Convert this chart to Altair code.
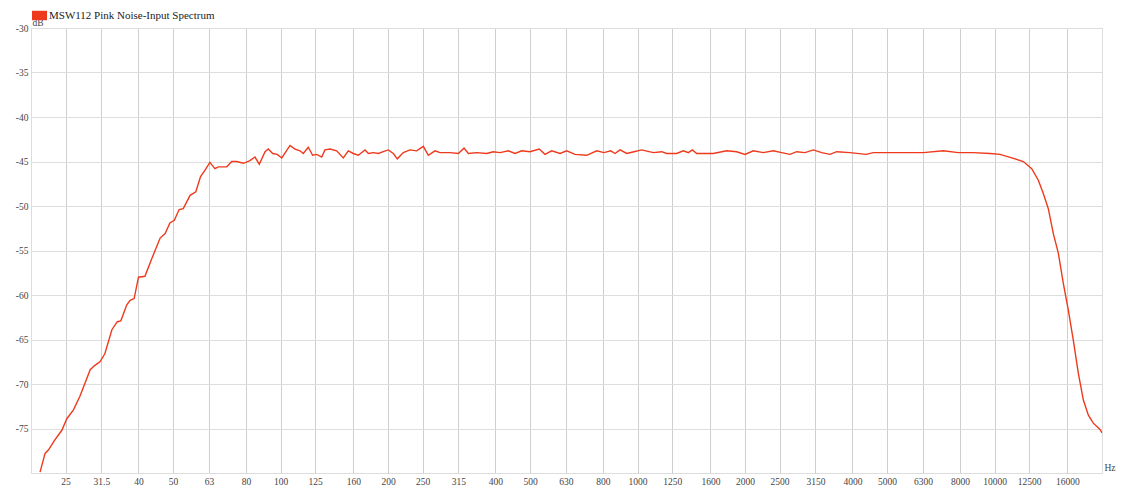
import altair as alt
import pandas as pd

series_name = "MSW112 Pink Noise-Input Spectrum"

freq_hz = [
    21.2, 21.9, 22.4, 23.3, 24.4, 25.2, 26.3, 27.4, 29.3, 30.2,
    31.2, 32.2, 33.7, 34.9, 35.7, 37.1, 37.9, 38.9, 40.0, 41.7,
    43.6, 46.0, 47.5, 49.0, 50.4, 52.0, 53.4, 55.8, 57.9, 59.7,
    61.4, 63.4, 65.5, 66.9, 70.7, 73.0, 75.4, 78.7, 82.1, 84.8,
    87.2, 90.5, 92.4, 95.1, 97.9, 100.8, 106.3, 109.8, 113.4, 115.8,
    119.6, 123.0, 126.3, 130.4, 133.2, 137.6, 143.6, 149.9, 154.8, 159.9,
    165.1, 172.5, 176.2, 181.9, 187.9, 194.0, 200.4, 207.0, 212.4, 220.8,
    230.4, 240.6, 251.2, 259.4, 270.8, 279.8, 298.4, 314.8, 326.6, 335.8,
    354.4, 378.0, 394.4, 412.0, 434.6, 453.8, 473.8, 499.8, 530.6, 550.6,
    574.8, 606.6, 633.2, 668.0, 720.6, 768.4, 805.4, 841.2, 864.8, 893.4,
    932.6, 977.6, 1027, 1107, 1169, 1207, 1287, 1344, 1388, 1424,
    1465, 1630, 1777, 1896, 2000, 2110, 2250, 2400, 2534, 2674,
    2792, 2946, 3108, 3280, 3460, 3614, 3938, 4366, 4576, 5096,
    5676, 6316, 7188, 7918, 8722, 9716, 10360, 11000, 12040, 12710,
    13264, 13698, 14146, 14610, 15090, 15584, 16096, 16624, 17170, 17734,
    18316, 18908, 19744, 20000,
]

level_db = [
    -79.9, -77.8, -77.4, -76.3, -75.2, -73.9, -72.9, -71.4, -68.4, -67.9,
    -67.5, -66.6, -63.9, -63.0, -62.9, -61.1, -60.6, -60.4, -58.0, -57.9,
    -55.9, -53.6, -53.1, -51.9, -51.6, -50.4, -50.3, -48.8, -48.4, -46.7,
    -46.0, -45.1, -45.8, -45.6, -45.6, -45.0, -45.0, -45.2, -44.9, -44.5,
    -45.3, -43.9, -43.6, -44.1, -44.2, -44.6, -43.2, -43.6, -43.8, -44.1,
    -43.4, -44.3, -44.2, -44.5, -43.7, -43.6, -43.8, -44.6, -43.8, -44.1,
    -44.3, -43.7, -44.1, -44.0, -44.1, -43.9, -43.7, -44.1, -44.7, -44.0,
    -43.7, -43.8, -43.3, -44.3, -43.8, -44.0, -44.0, -44.1, -43.5, -44.1,
    -44.0, -44.1, -43.9, -44.0, -43.8, -44.1, -43.8, -43.9, -43.6, -44.2,
    -43.8, -44.1, -43.8, -44.2, -44.3, -43.8, -44.0, -43.8, -44.1, -43.7,
    -44.1, -43.9, -43.7, -44.0, -43.9, -44.1, -44.1, -43.8, -44.0, -43.7,
    -44.1, -44.1, -43.8, -43.9, -44.2, -43.8, -44.0, -43.8, -44.0, -44.2,
    -43.9, -44.0, -43.7, -44.0, -44.2, -43.9, -44.0, -44.2, -44.0, -44.0,
    -44.0, -44.0, -43.8, -44.0, -44.0, -44.1, -44.2, -44.5, -45.0, -45.8,
    -47.1, -48.6, -50.3, -53.1, -55.3, -58.7, -61.7, -65.1, -68.8, -71.8,
    -73.5, -74.4, -75.1, -75.5,
]

x_ticks = [25, 31.5, 40, 50, 63, 80, 100, 125, 160, 200, 250, 315, 400, 500,
           630, 800, 1000, 1250, 1600, 2000, 2500, 3150, 4000, 5000, 6300,
           8000, 10000, 12500, 16000]
y_ticks = [-30, -35, -40, -45, -50, -55, -60, -65, -70, -75]

df = pd.DataFrame({"Frequency": freq_hz, "Level": level_db, "Series": series_name})

FONT = "Liberation Serif"
RED = "#ee3a1c"

chart = alt.Chart(df).mark_line(strokeWidth=1.4, clip=True).encode(
    x=alt.X(
        "Frequency:Q",
        scale=alt.Scale(type="log", domain=[20, 20000], nice=False),
        axis=alt.Axis(
            values=x_ticks, format="~g", title="Hz",
            titleX=1073, titleY=-6, titleAlign="left", titleBaseline="middle",
            titleFont=FONT, titleFontSize=9.5, titleFontWeight="normal", titleColor="#444",
            labelFont=FONT, labelFontSize=9.5, labelColor="#444", labelPadding=3,
            labelFlush=False, labelOverlap=False,
            ticks=False, domain=False, grid=True, gridColor="#cfcfcf", gridWidth=1,
        ),
    ),
    y=alt.Y(
        "Level:Q",
        scale=alt.Scale(domain=[-80, -30], nice=False, zero=False),
        axis=alt.Axis(
            values=y_ticks, labelExpr="'' + datum.value", title="dB",
            titleAngle=0, titleX=1, titleY=-1, titleAlign="left", titleBaseline="bottom",
            titleFont=FONT, titleFontSize=9.5, titleFontWeight="normal", titleColor="#444",
            labelFont=FONT, labelFontSize=9.5, labelColor="#444", labelPadding=3,
            labelFlush=False, labelOverlap=False,
            ticks=False, domain=False, grid=True, gridColor="#dddddd", gridWidth=1,
        ),
    ),
    color=alt.Color(
        "Series:N",
        scale=alt.Scale(range=[RED]),
        legend=alt.Legend(
            title=None, orient="none", legendX=1, legendY=-20, padding=0,
            symbolType="M-1,-0.63H1V0.63H-1Z", symbolSize=225,
            symbolFillColor=RED, symbolStrokeColor=RED, symbolStrokeWidth=0,
            labelFont=FONT, labelFontSize=11, labelColor="#222",
            labelLimit=400, labelOffset=2,
        ),
    ),
).properties(
    width=1071, height=445,
    autosize=alt.AutoSizeParams(type="none"),
    padding={"left": 23, "top": 20, "right": 14, "bottom": 12},
).configure_view(
    stroke="#707070", strokeWidth=1,
).configure(background="white")

chart.save("out.html", embed_options={"renderer": "svg", "actions": False})
